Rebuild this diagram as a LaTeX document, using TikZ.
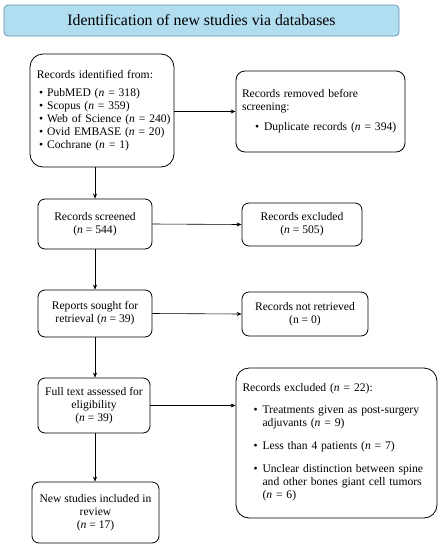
\documentclass[tikz,border=0pt]{standalone}
\usepackage{fontspec}
\setmainfont{Liberation Serif}
\usetikzlibrary{arrows.meta}
\definecolor{titlefill}{RGB}{176,221,240}
\definecolor{titledraw}{RGB}{105,150,180}
\begin{document}
\begin{tikzpicture}[x=1pt,y=-1pt,
  box/.style={draw, line width=0.8pt, rounded corners=7pt, align=center, inner sep=2pt,
    font=\fontsize{11.6}{13}\selectfont},
  bigbox/.style={box, rounded corners=13pt, align=left},
  arr/.style={-{Stealth[length=5pt,width=4pt]}, line width=0.6pt}]
\useasboundingbox (0,0) rectangle (443,550);
\node[draw=titledraw, fill=titlefill, line width=0.8pt, rounded corners=4pt,
  minimum width=395pt, minimum height=31pt, font=\fontsize{15.8}{18}\selectfont]
  (title) at (201.5,20.5) {Identification of new studies via databases};
\node[bigbox, minimum width=144pt, minimum height=113pt, text width=138pt, inner xsep=1pt] (ident) at (102,110.5)
  {\hspace*{4pt}Records identified from:\\[5pt]
  \hspace*{6pt}\textbullet\hspace{4pt}PubMED (\textit{n} = 318)\\
  \hspace*{6pt}\textbullet\hspace{4pt}Scopus (\textit{n} = 359)\\
  \hspace*{6pt}\textbullet\hspace{4pt}Web of Science (\textit{n} = 240)\\
  \hspace*{6pt}\textbullet\hspace{4pt}Ovid EMBASE (\textit{n} = 20)\\
  \hspace*{6pt}\textbullet\hspace{4pt}Cochrane (\textit{n} = 1)};
\node[bigbox, rounded corners=9pt, minimum width=169pt, minimum height=81pt, text width=157pt] (removed) at (320.5,111.5)
  {Records removed before\\ screening:\\[7pt]
  \hspace*{13pt}\textbullet\hspace{5pt}Duplicate records (\textit{n} = 394)\\[4pt]};
\node[box, minimum width=114pt, minimum height=50pt] (screened) at (95,224)
  {Records screened\\ (\textit{n} = 544)};
\node[box, minimum width=120pt, minimum height=43pt] (excl1) at (302,224.5)
  {Records excluded\\ (\textit{n} = 505)};
\node[box, minimum width=114pt, minimum height=47pt] (sought) at (95,313.5)
  {Reports sought for\\ retrieval (\textit{n} = 39)};
\node[box, minimum width=126pt, minimum height=44pt] (notret) at (305,314)
  {Records not retrieved\\ (n = 0)};
\node[box, minimum width=112pt, minimum height=55pt] (full) at (94,405.5)
  {Full text assessed for\\ eligibility\\ (\textit{n} = 39)};
\node[bigbox, minimum width=201pt, minimum height=150pt, text width=188pt] (excl2) at (336.5,443)
  {Records excluded (\textit{n} = 22):\\[10pt]
  \begin{tabular}{@{\hspace{11pt}}l@{\hspace{5pt}}p{166pt}@{}}
  \textbullet & Treatments given as post-surgery adjuvants (\textit{n} = 9)\\[10pt]
  \textbullet & Less than 4 patients (\textit{n} = 7)\\[10pt]
  \textbullet & Unclear distinction between spine and other bones giant cell tumors (\textit{n} = 6)
  \end{tabular}};
\node[box, minimum width=127pt, minimum height=61pt] (new) at (95.5,512.5)
  {New studies included in\\ review\\ (\textit{n} = 17)};
\draw[arr] (ident.south -| screened.north) -- (screened.north);
\draw[arr] (screened) -- (sought);
\draw[arr] (sought.south) -- (sought.south |- full.north);
\draw[arr] (full.south -| sought.south) -- (sought.south |- new.north);
\draw[arr] (ident.east |- removed.west) -- (removed.west);
\draw[arr] (screened.east) -- (excl1.west);
\draw[arr] (sought.east) -- (notret.west);
\draw[arr] (full.east) -- (excl2.west |- full.east);
\end{tikzpicture}
\end{document}
